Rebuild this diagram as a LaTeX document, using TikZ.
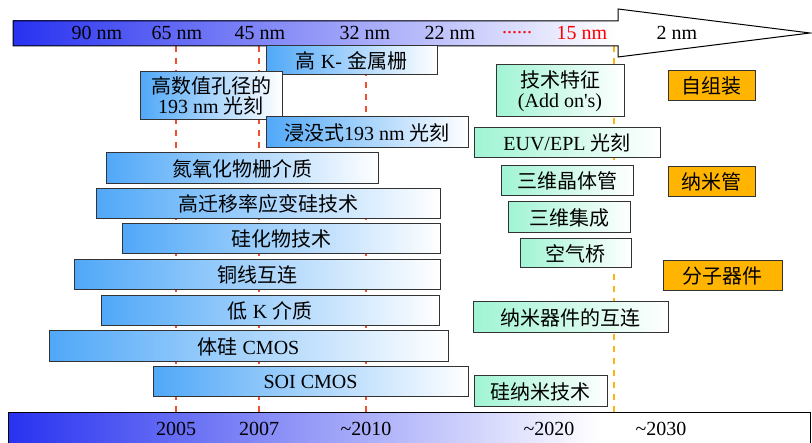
\documentclass[tikz,border=0pt]{standalone}
\usepackage{fontspec}
\setmainfont{Liberation Serif}
\newfontfamily\cjk{Noto Sans CJK SC}
\newcommand{\zh}[1]{{\cjk #1}}
\usepackage{tikz}

\definecolor{barblue}{RGB}{40,50,240}
\definecolor{boxblue}{RGB}{80,168,248}
\definecolor{boxgreen}{RGB}{160,244,212}
\definecolor{boxorange}{RGB}{255,180,0}
\definecolor{guidered}{RGB}{240,80,50}
\definecolor{guideorange}{RGB}{250,180,20}

\begin{document}
\begin{tikzpicture}[x=1pt,y=-1pt,
    every node/.style={font=\fontsize{20}{20}\selectfont, inner sep=0pt, outer sep=0pt},
    techbox/.style={draw=black!80, line width=1pt, minimum height=30pt, align=center},
    bluebox/.style={techbox, left color=boxblue, right color=white},
    greenbox/.style={techbox, left color=boxgreen, right color=white},
    orangebox/.style={techbox, fill=boxorange, minimum width=87pt},
    reddash/.style={guidered, line width=1.5pt, dash pattern=on 6pt off 6pt},
    orangedash/.style={guideorange, line width=1.5pt, dash pattern=on 6pt off 6pt}]
    \useasboundingbox (0,0) rectangle (812,443);
    % guide lines
    \foreach \gx in {176,259,366}
        \draw[reddash] (\gx,46) -- (\gx,413);
    \draw[orangedash] (614,46) -- (614,413);
    % node size arrow on top
    \shade[left color=barblue, right color=white] (13,21) rectangle (618,46);
    \fill[white] (618,9) -- (810,33) -- (618,57) -- cycle;
    \draw[line width=1pt] (13,21) -- (618,21) -- (618,9) -- (810,33) -- (618,57) -- (618,46) -- (13,46) -- cycle;
    \node (n90) at (97,33) {90 nm};
    \node (n65) at (177,33) {65 nm};
    \node (n45) at (260,33) {45 nm};
    \node (n32) at (365,33) {32 nm};
    \node (n22) at (450,33) {22 nm};
    \node[red] (ndots) at (517,33) {......};
    \node[red] (n15) at (582,33) {15 nm};
    \node (n2) at (677,33) {2 nm};
    % year bar at bottom
    \shade[left color=barblue, right color=white] (8,413) rectangle (600,450);
    \draw[line width=1pt] (8,413) rectangle (810,450);
    \node (y2005) at (176,429) {2005};
    \node (y2007) at (259,429) {2007};
    \node (y2010) at (366,429) {\textasciitilde2010};
    \node (y2020) at (549,429) {\textasciitilde2020};
    \node (y2030) at (661,429) {\textasciitilde2030};
    % current technologies
    \node[bluebox, minimum width=171pt, minimum height=29pt] (hkmg) at (351.5,60.5) {\zh{高} K- \zh{金属栅}};
    \node[bluebox, minimum width=142pt, minimum height=48pt] (hna) at (211,96) {\zh{高数值孔径的}\\193 nm \zh{光刻}};
    \node[bluebox, minimum width=202pt, minimum height=31pt] (immersion) at (367,132.5) {\zh{浸没式}193 nm \zh{光刻}};
    \node[bluebox, minimum width=272pt, minimum height=31pt] (sion) at (242,168.5) {\zh{氮氧化物栅介质}};
    \node[bluebox, minimum width=344pt] (strain) at (268,204) {\zh{高迁移率应变硅技术}};
    \node[bluebox, minimum width=318pt] (silicide) at (281,239) {\zh{硅化物技术}};
    \node[bluebox, minimum width=366pt] (copper) at (257,275) {\zh{铜线互连}};
    \node[bluebox, minimum width=338pt] (lowk) at (270,311) {\zh{低} K \zh{介质}};
    \node[bluebox, minimum width=399pt, minimum height=31pt] (bulk) at (248.5,346.5) {\zh{体硅} CMOS};
    \node[bluebox, minimum width=315pt] (soi) at (310.5,382) {SOI CMOS};
    % add-on technologies
    \node[greenbox, minimum width=128pt, minimum height=52pt] (addon) at (560,91) {\zh{技术特征}\\(Add on\textquotesingle s)};
    \node[greenbox, minimum width=186pt] (euv) at (567,143) {EUV/EPL \zh{光刻}};
    \node[greenbox, minimum width=132pt] (tri) at (567,181) {\zh{三维晶体管}};
    \node[greenbox, minimum width=122pt, minimum height=31pt] (threed) at (569,217.5) {\zh{三维集成}};
    \node[greenbox, minimum width=111pt, minimum height=29pt] (airgap) at (575.5,253.5) {\zh{空气桥}};
    \node[greenbox, minimum width=195pt, minimum height=31pt] (nanoint) at (570.5,317.5) {\zh{纳米器件的互连}};
    \node[greenbox, minimum width=133pt, minimum height=31pt] (sinano) at (540.5,391.5) {\zh{硅纳米技术}};
    % beyond CMOS
    \node[orangebox] (selfasm) at (711.5,86) {\zh{自组装}};
    \node[orangebox] (cnt) at (711.5,182) {\zh{纳米管}};
    \node[orangebox, minimum width=119pt] (molecular) at (722.5,276) {\zh{分子器件}};
\end{tikzpicture}
\end{document}
